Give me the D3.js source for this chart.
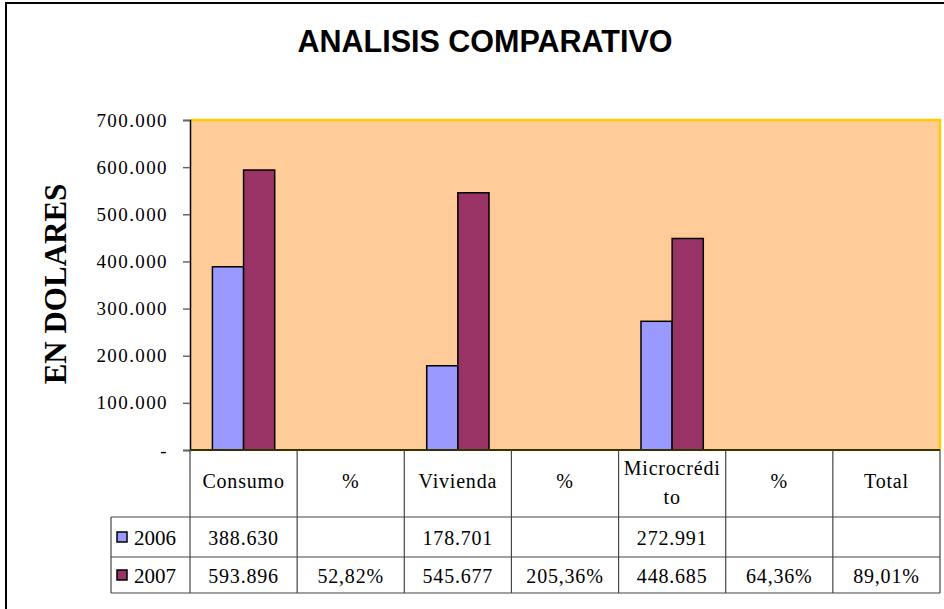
<!DOCTYPE html>
<html>
<head>
<meta charset="utf-8">
<script src="https://cdnjs.cloudflare.com/ajax/libs/d3/7.8.5/d3.min.js"></script>
<style>
  body { margin: 0; background: #fff; }
  svg { display: block; }
</style>
</head>
<body>
<div id="chart"></div>
<script>
// datos
var categories = ["Consumo", "%", "Vivienda", "%", "Microcrédito", "%", "Total"];
var series = ["2006", "2007"];
var values2006 = [388630, null, 178701, null, 272991, null, null];
var values2007 = [593896, null, 545677, null, 448685, null, null];
var pct2007 = [null, "52,82%", null, "205,36%", null, "64,36%", "89,01%"];
var yTicks = [0, 100000, 200000, 300000, 400000, 500000, 600000, 700000];
var colors = ["#9999FF", "#993366"];

var width = 944, height = 609;
var plot = { left: 190, right: 940, top: 120, bottom: 450 };
var rows = { header: 517, r2006: 557, r2007: 593, legendLeft: 111 };
var serif = "'Liberation Serif', 'Times New Roman', serif";

var loc = d3.formatLocale({ decimal: ",", thousands: ".", grouping: [3], currency: ["$", ""] });
var fmt = loc.format(",.0f");

var svg = d3.select("#chart").append("svg")
    .attr("width", width)
    .attr("height", height);

// chart border
svg.append("rect")
    .attr("x", 6).attr("y", 3)
    .attr("width", width + 10).attr("height", height + 10)
    .style("fill", "#fff")
    .style("stroke", "#000")
    .style("stroke-width", 2);

svg.append("text")
    .text("ANALISIS COMPARATIVO")
    .attr("x", 485).attr("y", 52)
    .attr("text-anchor", "middle")
    .style("font-family", "'Liberation Sans', Arial, sans-serif")
    .style("font-weight", "bold")
    .style("font-size", "30.5px");

var x = d3.scaleBand()
    .domain(d3.range(categories.length))
    .range([plot.left, plot.right])
    .paddingInner(0).paddingOuter(0);

var xs = d3.scaleBand()
    .domain(series)
    .range([0, x.bandwidth()])
    .paddingInner(0).paddingOuter(0.72);

var y = d3.scaleLinear()
    .domain([0, 700000])
    .range([plot.bottom, plot.top]);

// plot area
svg.append("rect")
    .attr("x", plot.left).attr("y", plot.top)
    .attr("width", plot.right - plot.left)
    .attr("height", plot.bottom - plot.top)
    .style("fill", "#FFCC99");
svg.append("path")
    .attr("d", "M" + plot.left + "," + plot.top + "H" + plot.right + "V" + plot.bottom)
    .style("fill", "none")
    .style("stroke", "#FFCC00")
    .style("stroke-width", 2.5);

// bars
var data = [];
categories.forEach(function (c, i) {
    [values2006[i], values2007[i]].forEach(function (v, s) {
        if (v != null) data.push({ i: i, s: s, v: v });
    });
});
svg.append("g").selectAll("rect")
    .data(data)
    .join("rect")
    .attr("x", function (d) { return x(d.i) + xs(series[d.s]); })
    .attr("y", function (d) { return y(d.v); })
    .attr("width", xs.bandwidth())
    .attr("height", function (d) { return y(0) - y(d.v); })
    .style("fill", function (d) { return colors[d.s]; })
    .style("stroke", "#000")
    .style("stroke-width", 1.5);

// y axis
var yAxis = d3.axisLeft(y)
    .tickValues(yTicks)
    .tickSize(7)
    .tickPadding(15)
    .tickFormat(function (d) { return d === 0 ? "-" : fmt(d); });
var ga = svg.append("g")
    .attr("transform", "translate(" + plot.left + ",0)")
    .call(yAxis);
ga.select(".domain").style("stroke", "#000").style("stroke-width", 1.5);
ga.selectAll(".tick line").style("stroke", "#666").style("stroke-width", 1.5);
ga.selectAll(".tick text")
    .style("font-family", serif)
    .style("font-size", "19px")
    .style("letter-spacing", "1.4px")
    .style("fill", "#000");

svg.append("line")
    .attr("x1", plot.left).attr("x2", plot.right)
    .attr("y1", plot.bottom).attr("y2", plot.bottom)
    .style("stroke", "#333300")
    .style("stroke-width", 2);

svg.append("text")
    .text("EN DOLARES")
    .attr("transform", "translate(66,284) rotate(-90)")
    .attr("text-anchor", "middle")
    .style("font-family", serif)
    .style("font-weight", "bold")
    .style("font-size", "31px");

// data table
var grid = svg.append("g")
    .style("stroke", "#444")
    .style("stroke-width", 1.2);
x.domain().concat([categories.length]).forEach(function (i) {
    var xx = i < categories.length ? x(i) : plot.right;
    grid.append("line")
        .attr("x1", xx).attr("x2", xx)
        .attr("y1", plot.bottom).attr("y2", rows.r2007);
});
[rows.header, rows.r2006, rows.r2007].forEach(function (yy) {
    grid.append("line")
        .attr("x1", rows.legendLeft).attr("x2", plot.right)
        .attr("y1", yy).attr("y2", yy);
});
grid.append("line")
    .attr("x1", rows.legendLeft).attr("x2", rows.legendLeft)
    .attr("y1", rows.header).attr("y2", rows.r2007);

function cellText(txt, cx, by) {
    svg.append("text")
        .text(txt)
        .attr("x", cx).attr("y", by)
        .attr("text-anchor", "middle")
        .style("font-family", serif)
        .style("font-size", "20px")
        .style("letter-spacing", "0.8px");
}

categories.forEach(function (c, i) {
    var cx = x(i) + x.bandwidth() / 2;
    if (c === "Microcrédito") {
        cellText("Microcrédi", cx, 475);
        cellText("to", cx, 504);
    } else {
        cellText(c, cx, 488);
    }
    if (values2006[i] != null) cellText(fmt(values2006[i]), cx, 545);
    var v7 = values2007[i] != null ? fmt(values2007[i]) : pct2007[i];
    if (v7) cellText(v7, cx, 583);
});

// legend keys
[rows.header, rows.r2006].forEach(function (yy, s) {
    var next = s === 0 ? rows.r2006 : rows.r2007;
    var my = (yy + next) / 2;
    svg.append("rect")
        .attr("x", 117).attr("y", my - 5)
        .attr("width", 10).attr("height", 10)
        .style("fill", colors[s])
        .style("stroke", "#000")
        .style("stroke-width", 1.5);
    svg.append("text")
        .text(series[s])
        .attr("x", 134).attr("y", my + 8)
        .style("font-family", serif)
        .style("font-size", "21px");
});
</script>
</body>
</html>
